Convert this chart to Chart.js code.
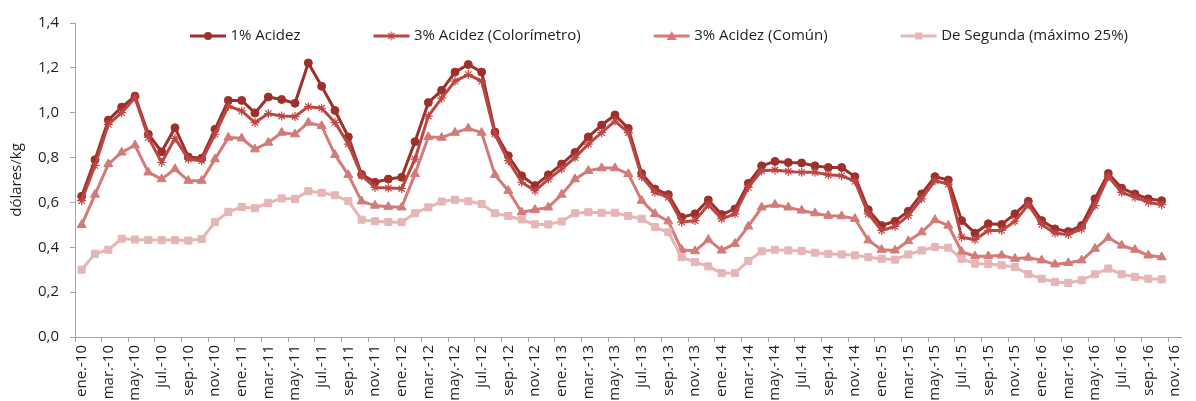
<!DOCTYPE html>
<html>
<head>
<meta charset="utf-8">
<script src="https://cdn.jsdelivr.net/npm/chart.js@4.4.1/dist/chart.umd.min.js"></script>
<style>
html,body{margin:0;padding:0;background:#fff;}
#wrap{width:1196px;height:401px;position:relative;}
</style>
</head>
<body>
<div id="wrap"><canvas id="c" width="1196" height="401"></canvas></div>
<script>
// ---- DATA ----
const categories = [
 'ene.-10','feb.-10','mar.-10','abr.-10','may.-10','jun.-10','jul.-10','ago.-10','sep.-10','oct.-10','nov.-10','dic.-10',
 'ene.-11','feb.-11','mar.-11','abr.-11','may.-11','jun.-11','jul.-11','ago.-11','sep.-11','oct.-11','nov.-11','dic.-11',
 'ene.-12','feb.-12','mar.-12','abr.-12','may.-12','jun.-12','jul.-12','ago.-12','sep.-12','oct.-12','nov.-12','dic.-12',
 'ene.-13','feb.-13','mar.-13','abr.-13','may.-13','jun.-13','jul.-13','ago.-13','sep.-13','oct.-13','nov.-13','dic.-13',
 'ene.-14','feb.-14','mar.-14','abr.-14','may.-14','jun.-14','jul.-14','ago.-14','sep.-14','oct.-14','nov.-14','dic.-14',
 'ene.-15','feb.-15','mar.-15','abr.-15','may.-15','jun.-15','jul.-15','ago.-15','sep.-15','oct.-15','nov.-15','dic.-15',
 'ene.-16','feb.-16','mar.-16','abr.-16','may.-16','jun.-16','jul.-16','ago.-16','sep.-16','oct.-16','nov.-16'
];

const acidez1 = [
 0.627,0.790,0.967,1.025,1.074,0.904,0.826,0.933,0.803,0.797,0.926,1.055,
 1.055,0.999,1.070,1.059,1.042,1.222,1.118,1.010,0.892,0.725,0.690,0.704,
 0.712,0.871,1.045,1.100,1.181,1.215,1.181,0.914,0.808,0.719,0.675,0.723,
 0.771,0.823,0.892,0.945,0.990,0.930,0.729,0.660,0.635,0.534,0.549,0.611,
 0.546,0.571,0.685,0.763,0.783,0.778,0.776,0.763,0.756,0.756,0.715,0.567,
 0.497,0.516,0.561,0.638,0.715,0.700,0.519,0.463,0.505,0.502,0.549,0.605,
 0.519,0.482,0.470,0.497,0.616,0.729,0.664,0.638,0.616,0.608
];

const colorimetro = [
 0.608,0.765,0.948,1.000,1.067,0.890,0.778,0.886,0.793,0.786,0.904,1.030,
 1.008,0.956,0.996,0.985,0.983,1.027,1.020,0.956,0.860,0.719,0.667,0.664,
 0.662,0.793,0.985,1.065,1.141,1.170,1.141,0.904,0.786,0.690,0.652,0.704,
 0.749,0.800,0.860,0.911,0.963,0.911,0.715,0.645,0.623,0.512,0.519,0.590,
 0.527,0.549,0.667,0.741,0.745,0.738,0.734,0.734,0.723,0.719,0.694,0.549,
 0.475,0.493,0.541,0.616,0.697,0.682,0.445,0.434,0.475,0.475,0.516,0.590,
 0.502,0.463,0.457,0.482,0.586,0.715,0.645,0.623,0.601,0.590
];

const comun = [
 0.500,0.635,0.771,0.823,0.855,0.734,0.704,0.749,0.697,0.697,0.793,0.889,
 0.886,0.837,0.867,0.911,0.904,0.956,0.941,0.812,0.723,0.605,0.586,0.581,
 0.578,0.727,0.892,0.889,0.911,0.930,0.911,0.723,0.652,0.556,0.567,0.578,
 0.635,0.704,0.741,0.753,0.753,0.727,0.608,0.549,0.516,0.389,0.383,0.434,
 0.386,0.416,0.493,0.578,0.590,0.578,0.564,0.552,0.541,0.539,0.527,0.431,
 0.389,0.386,0.428,0.467,0.522,0.497,0.380,0.360,0.360,0.364,0.349,0.354,
 0.342,0.324,0.330,0.342,0.394,0.443,0.408,0.389,0.364,0.356
];

const segunda = [
 0.300,0.371,0.389,0.438,0.435,0.433,0.432,0.432,0.430,0.437,0.512,0.558,
 0.580,0.574,0.598,0.618,0.616,0.650,0.643,0.632,0.606,0.523,0.516,0.513,
 0.512,0.552,0.578,0.604,0.612,0.605,0.593,0.552,0.539,0.524,0.502,0.502,
 0.515,0.552,0.556,0.554,0.554,0.539,0.527,0.490,0.467,0.356,0.334,0.315,
 0.285,0.285,0.339,0.382,0.389,0.386,0.384,0.376,0.371,0.368,0.364,0.356,
 0.349,0.345,0.368,0.386,0.401,0.398,0.349,0.327,0.325,0.320,0.312,0.280,
 0.260,0.245,0.241,0.253,0.280,0.305,0.280,0.268,0.260,0.257
];

const seriesNames = ['1% Acidez','3% Acidez (Colorímetro)','3% Acidez (Común)','De Segunda (máximo 25%)'];
const yTickLabels = ['0,0','0,2','0,4','0,6','0,8','1,0','1,2','1,4'];

// ---- STYLE ----
const FONT = '"Open Sans", "Liberation Sans", sans-serif';
const TEXT = '#1f1f1f';
const AXIS = '#a6a6a6';
const colors = ['#9e302c','#bb4744','#d27b78','#e5b6b5'];
const styles = ['circle','star','triangle','rect'];
const radii = [4,4.5,5.2,5];
const LEG_FONT = 15, LEG_PAD = 76, LEG_X = 193, LEG_Y = 36;

Chart.defaults.font.family = FONT;
Chart.defaults.color = TEXT;

function legendIcon(color, style) {
  const c = document.createElement('canvas');
  c.width = 38; c.height = 14;
  const g = c.getContext('2d');
  g.strokeStyle = color; g.fillStyle = color; g.lineWidth = 3; g.lineCap = 'butt';
  g.beginPath(); g.moveTo(1, 7); g.lineTo(37, 7); g.stroke();
  const cx = 19, cy = 7;
  g.beginPath();
  if (style === 'circle') { g.arc(cx, cy, 4, 0, Math.PI * 2); g.fill(); }
  else if (style === 'rect') { g.fillRect(cx - 3.5, cy - 3.5, 7, 7); }
  else if (style === 'triangle') { g.moveTo(cx, cy - 5); g.lineTo(cx + 5, cy + 4); g.lineTo(cx - 5, cy + 4); g.closePath(); g.fill(); }
  else {
    g.lineWidth = 1.2;
    for (let k = 0; k < 4; k++) { const a = k * Math.PI / 4; g.moveTo(cx - 4.5 * Math.cos(a), cy - 4.5 * Math.sin(a)); g.lineTo(cx + 4.5 * Math.cos(a), cy + 4.5 * Math.sin(a)); }
    g.stroke();
  }
  return c;
}
const icons = colors.map((c, i) => legendIcon(c, styles[i]));

const seriesData = [acidez1, colorimetro, comun, segunda];
const datasets = seriesData.map((d, i) => ({
  label: seriesNames[i],
  data: d,
  borderColor: colors[i],
  backgroundColor: colors[i],
  borderWidth: 3,
  borderJoinStyle: 'round',
  pointStyle: styles[i],
  pointRadius: radii[i],
  pointHoverRadius: radii[i],
  pointBackgroundColor: colors[i],
  pointBorderColor: colors[i],
  pointBorderWidth: styles[i] === 'star' ? 1.2 : 1,
  tension: 0,
  order: 3 - i
}));

// legend drawn over the plot area without reserving layout space
const overlayLegend = {
  id: 'overlayLegend',
  beforeLayout(chart) {
    const lg = chart.legend;
    if (!lg || lg._ov) return;
    lg._ov = true;
    const fit0 = lg.fit;
    lg.fit = function () { fit0.call(this); this.height = 0; };
    const draw0 = lg.draw;
    lg.draw = function (area) {
      const s = [this.left, this.top, this.right, this.bottom, this.width, this.height];
      this.left = LEG_X - LEG_PAD; this.right = 10000; this.width = this.right - this.left;
      this.top = LEG_Y - LEG_PAD - LEG_FONT / 2; this.bottom = chart.height; this.height = this.bottom - this.top;
      draw0.call(this, area);
      [this.left, this.top, this.right, this.bottom, this.width, this.height] = s;
    };
  }
};

new Chart(document.getElementById('c'), {
  type: 'line',
  data: { labels: categories, datasets },
  plugins: [overlayLegend],
  options: {
    responsive: false,
    animation: false,
    devicePixelRatio: 1,
    layout: { padding: { top: 23, right: 3, left: 0, bottom: 0 } },
    plugins: {
      tooltip: { enabled: false },
      legend: {
        position: 'top',
        align: 'start',
        labels: {
          usePointStyle: true,
          pointStyleWidth: 30,
          padding: LEG_PAD,
          color: TEXT,
          font: { size: LEG_FONT, family: FONT },
          generateLabels(chart) {
            return chart.data.datasets.map((ds, i) => ({
              text: ds.label, pointStyle: icons[i], fillStyle: ds.borderColor,
              strokeStyle: ds.borderColor, lineWidth: 0, hidden: false, datasetIndex: i, fontColor: TEXT
            }));
          }
        }
      }
    },
    scales: {
      x: {
        type: 'category',
        offset: true,
        grid: {
          offset: true, drawOnChartArea: false, drawTicks: true, tickLength: 5, lineWidth: 1,
          color: ctx => (ctx.index !== undefined && ctx.index % 2 === 0) ? AXIS : 'rgba(0,0,0,0)'
        },
        border: { color: AXIS, width: 1 },
        ticks: {
          autoSkip: false, minRotation: 90, maxRotation: 90, padding: 3,
          font: { size: 15, family: FONT }, color: TEXT,
          callback: (v, i) => (i % 2 === 0 ? categories[i] : '')
        },
        afterFit: s => { s.height = 64; }
      },
      y: {
        min: 0, max: 1.4,
        ticks: {
          stepSize: 0.2, padding: 11, font: { size: 15, family: FONT }, color: TEXT,
          callback: v => yTickLabels[Math.round(v * 5)]
        },
        grid: { drawOnChartArea: false, drawTicks: true, tickLength: 5, color: AXIS },
        border: { color: AXIS, width: 1 },
        title: { display: true, text: 'dólares/kg', font: { size: 15, family: FONT }, color: TEXT, padding: { top: 8, bottom: 0 } },
        afterFit: s => { s.width = 75; }
      }
    }
  }
});
</script>
</body>
</html>
